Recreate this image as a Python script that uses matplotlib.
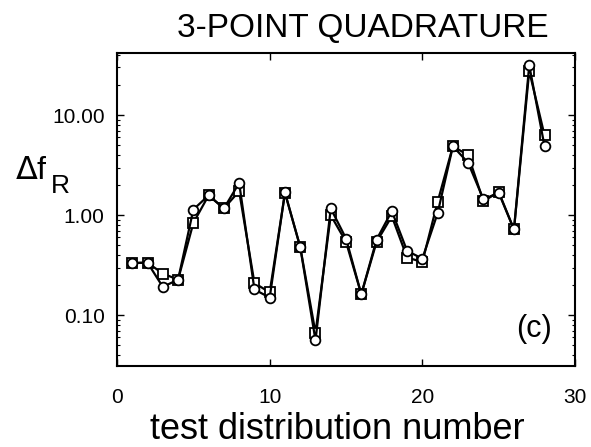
import matplotlib
matplotlib.use("Agg")
import matplotlib.pyplot as plt
from matplotlib.ticker import FixedLocator, FixedFormatter, LogLocator, NullFormatter

plt.rcParams['font.family'] = ['Liberation Sans', 'DejaVu Sans']

# test distribution numbers
dist = list(range(1, 29))
# squares
sq_vals = [0.333, 0.335, 0.261, 0.227, 0.838, 1.58, 1.17, 1.74, 0.21, 0.169,
           1.67, 0.482, 0.0666, 1.0, 0.541, 0.162, 0.54, 0.977, 0.377, 0.341,
           1.36, 4.9, 3.98, 1.38, 1.71, 0.72, 27.7, 6.3]
# circles
ci_vals = [0.333, 0.335, 0.192, 0.227, 1.14, 1.58, 1.17, 2.10, 0.181, 0.150,
           1.69, 0.48, 0.056, 1.17, 0.585, 0.162, 0.57, 1.10, 0.44, 0.368,
           1.05, 4.9, 3.34, 1.44, 1.68, 0.72, 31.6, 4.9]

y_ticks = [0.1, 1.0, 10.0]
y_labels = ['0.10', '1.00', '10.00']
x_ticks = [0, 10, 20, 30]

fig = plt.figure(figsize=(5.91, 4.47), dpi=100)
ax = fig.add_axes([0.198, 0.181, 0.775, 0.70])

ax.plot(dist, sq_vals, color='black', lw=1.6, marker='s', ms=6.5,
        mfc='white', mec='black', mew=1.3, zorder=3)
ax.plot(dist, ci_vals, color='black', lw=1.6, marker='o', ms=7,
        mfc='white', mec='black', mew=1.3, zorder=4)

ax.set_yscale('log')
ax.set_xlim(0, 30)
ax.set_ylim(0.031, 41.7)

ax.yaxis.set_major_locator(FixedLocator(y_ticks))
ax.yaxis.set_major_formatter(FixedFormatter(y_labels))
ax.yaxis.set_minor_locator(LogLocator(base=10, subs=range(2, 10)))
ax.yaxis.set_minor_formatter(NullFormatter())
ax.set_xticks(x_ticks)

ax.tick_params(axis='both', which='major', direction='in', length=5, width=1,
               top=True, right=True, labelsize=15)
ax.tick_params(axis='y', which='minor', direction='in', length=2.5, width=0.8,
               right=True)
ax.tick_params(axis='x', which='major', pad=16)
ax.tick_params(axis='y', which='major', pad=9)
for s in ax.spines.values():
    s.set_linewidth(1.5)

ax.text(0.91, 0.12, '(c)', transform=ax.transAxes, fontsize=22,
        ha='center', va='center')

fig.text(0.6134, 0.918, '3-POINT QUADRATURE', fontsize=24, ha='center', va='baseline')
fig.text(0.025, 0.5996, r'$\Delta$f', fontsize=23, ha='left', va='baseline')
fig.text(0.086, 0.568, 'R', fontsize=19, ha='left', va='baseline')
fig.text(0.571, 0.018, 'test distribution number', fontsize=26, ha='center', va='baseline')

plt.savefig('out.png', dpi=100)
